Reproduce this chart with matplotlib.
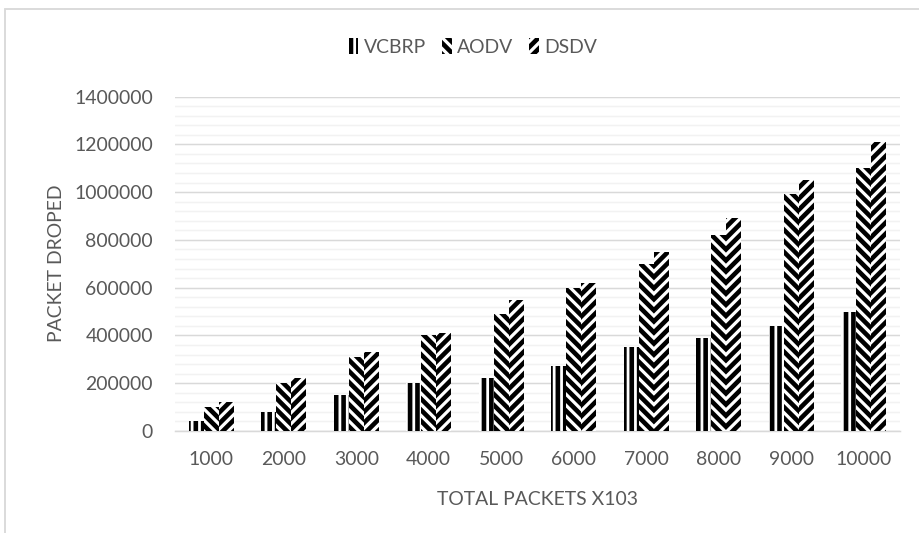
import numpy as np
import matplotlib
matplotlib.use("Agg")
import matplotlib.pyplot as plt
from matplotlib.patches import Rectangle
from matplotlib.ticker import FuncFormatter

# packets dropped per scheme, total packets in thousands
packets = ["1000", "2000", "3000", "4000", "5000", "6000", "7000", "8000", "9000", "10000"]
vcbrp = [40000, 80000, 150000, 200000, 220000, 270000, 350000, 390000, 440000, 500000]
aodv = [100000, 200000, 310000, 400000, 490000, 600000, 700000, 820000, 990000, 1100000]
dsdv = [120000, 220000, 330000, 410000, 550000, 620000, 750000, 890000, 1050000, 1210000]

plt.rcParams["font.family"] = ["Lato", "DejaVu Sans"]
plt.rcParams["hatch.linewidth"] = 2.5
grey = "#595959"

fig = plt.figure(figsize=(919 / 133, 533 / 133), dpi=133)
ax = fig.add_axes([175 / 919, 1 - 431 / 533, 725 / 919, 334.5 / 533])

# outer chart frame
fig.patches.append(Rectangle((5 / 919, -0.1), 1.2, 1.1 - 9 / 533, transform=fig.transFigure,
                             fill=False, edgecolor="#d9d9d9", linewidth=1.0))

x = np.arange(len(packets))
w = 0.207
b1 = ax.bar(x - w, vcbrp, w, color="white", edgecolor="black", linewidth=0, hatch="|||", label="VCBRP", zorder=3)
b2 = ax.bar(x, aodv, w, color="white", edgecolor="black", linewidth=0, hatch="\\\\\\\\", label="AODV", zorder=3)
b3 = ax.bar(x + w, dsdv, w, color="white", edgecolor="black", linewidth=0, hatch="////", label="DSDV", zorder=3)

ax.set_xlim(-0.5, len(packets) - 0.5)
ax.set_ylim(0, 1400000)
ax.set_yticks(np.arange(0, 1400001, 200000))
ax.set_yticks(np.arange(0, 1400001, 40000), minor=True)
ax.yaxis.set_major_formatter(FuncFormatter(lambda v, p: f"{v:.0f}"))
ax.set_xticks(x)
ax.set_xticklabels(packets)
ax.grid(axis="y", which="major", color="#d9d9d9", linewidth=0.8, zorder=0)
ax.grid(axis="y", which="minor", color="#f2f2f2", linewidth=0.8, zorder=0)
ax.tick_params(which="both", length=0, labelsize=10.5, colors=grey)
ax.tick_params(axis="y", pad=12)
ax.tick_params(axis="x", pad=11)
for s in ["left", "right", "top"]:
    ax.spines[s].set_visible(False)
ax.spines["bottom"].set_color("#d9d9d9")
ax.spines["bottom"].set_linewidth(0.8)

ax.set_ylabel("PACKET DROPED", fontsize=10.5, color=grey, va="center")
ax.yaxis.set_label_coords(-0.163, 0.5)
ax.set_xlabel("TOTAL PACKETS X103", fontsize=10.5, color=grey, va="center")
ax.xaxis.set_label_coords(0.5, -0.206)

fig.legend(handles=[b1, b2, b3], loc="center", bbox_to_anchor=(473 / 919, 1 - 47 / 533), ncol=3,
           frameon=False, fontsize=10.5, labelcolor=grey, handlelength=0.5, handleheight=0.9,
           handletextpad=0.3, columnspacing=0.8)

fig.savefig("out.png", dpi=133)
